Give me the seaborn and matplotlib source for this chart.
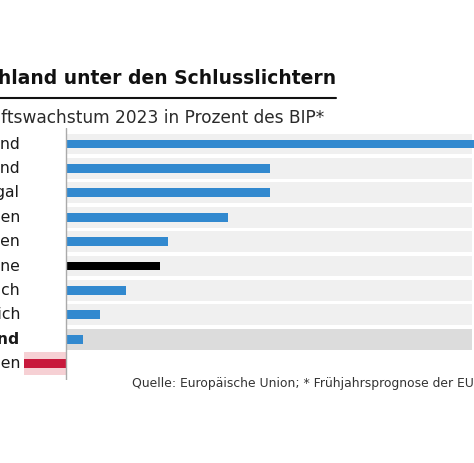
import matplotlib
matplotlib.use("Agg")
import matplotlib.pyplot as plt
from matplotlib.lines import Line2D
import seaborn as sns
import pandas as pd

countries = ["Irland", "Griechenland", "Portugal", "Spanien", "Italien",
             "Eurozone", "Frankreich", "Österreich", "Deutschland", "Schweden"]
growth = [5.5, 2.4, 2.4, 1.9, 1.2, 1.1, 0.7, 0.4, 0.2, -0.5]
bar_colors = ["#3289cf", "#3289cf", "#3289cf", "#3289cf", "#3289cf",
              "#000000", "#3289cf", "#3289cf", "#3289cf", "#c8193c"]
title = "Deutschland unter den Schlusslichtern"
subtitle = "Wirtschaftswachstum 2023 in Prozent des BIP*"
source = "Quelle: Europäische Union; * Frühjahrsprognose der EU"

W, H = 474, 463
sns.set_theme(style="white")
plt.rcParams['font.family'] = ['DejaVu Sans']

fig = plt.figure(figsize=(W / 100, H / 100), dpi=100)
fig.patch.set_facecolor("white")
renderer = fig.canvas.get_renderer()


def fit_size(s, target_px, weight="normal", ref=10.0):
    t = fig.text(0, 0, s, fontsize=ref, fontweight=weight)
    w = t.get_window_extent(renderer).width
    t.remove()
    return ref * target_px / w


# axes geometry in pixels
zero_px, px_per_unit = 66, 85
top_px, bot_px = 128, 380
row0_px, pitch = 144, 24.4
ax = fig.add_axes([0, 1 - bot_px / H, 1, (bot_px - top_px) / H])
ax.set_facecolor("white")

df = pd.DataFrame({"Land": countries, "Wachstum": growth})

# background bands
xmax = (W - zero_px) / px_per_unit
band_right = (472 - zero_px) / px_per_unit
for i, v in enumerate(growth):
    if v >= 0:
        col = "#dcdcdc" if countries[i] == "Deutschland" else "#f0f0f0"
        ax.barh(i, band_right, left=0, height=0.86, color=col, zorder=0, linewidth=0)
    else:
        ax.barh(i, -v, left=v, height=0.95, color="#f6d0d4", zorder=0, linewidth=0)

sns.barplot(data=df, x="Wachstum", y="Land", hue="Land", palette=bar_colors,
            orient="h", width=0.36, legend=False, ax=ax, zorder=2,
            linewidth=0, saturation=1)

ax.axvline(0, color="#aaaaaa", lw=1, zorder=3)
ax.set_xlim(-zero_px / px_per_unit, xmax)
ax.set_ylim((bot_px - row0_px) / pitch, (top_px - row0_px) / pitch)
ax.set_xticks([])
ax.set_yticks([])
ax.set_xlabel("")
ax.set_ylabel("")
for s in ax.spines.values():
    s.set_visible(False)

# category labels (right edge at px 20)
lab_size = fit_size("nd", 19.8)
for i, c in enumerate(countries):
    bold = c == "Deutschland"
    ax.text(20 / W, i, c, transform=ax.get_yaxis_transform(), ha="right", va="center",
            fontsize=lab_size, color="#1a1a1a",
            fontweight="bold" if bold else "normal")

# title, underline, subtitle, source
t_size = fit_size("hland unter den Schlusslichtern", 337, weight="bold")
fig.text(336 / W, 1 - 79 / H, title, ha="right", va="center", fontsize=t_size,
         fontweight="bold", color="#111111")
fig.add_artist(Line2D([0, 336 / W], [1 - 98 / H, 1 - 98 / H], color="#111111", lw=1.5))
s_size = fit_size("ftswachstum 2023 in Prozent des BIP*", 323)
fig.text(324 / W, 1 - 118 / H, subtitle, ha="right", va="center", fontsize=s_size,
         color="#2a2a2a")
q_size = fit_size(source, 341)
fig.text(132 / W, 1 - 384 / H, source, ha="left", va="center", fontsize=q_size,
         color="#333333")

fig.savefig("out.png", dpi=100, facecolor="white")
